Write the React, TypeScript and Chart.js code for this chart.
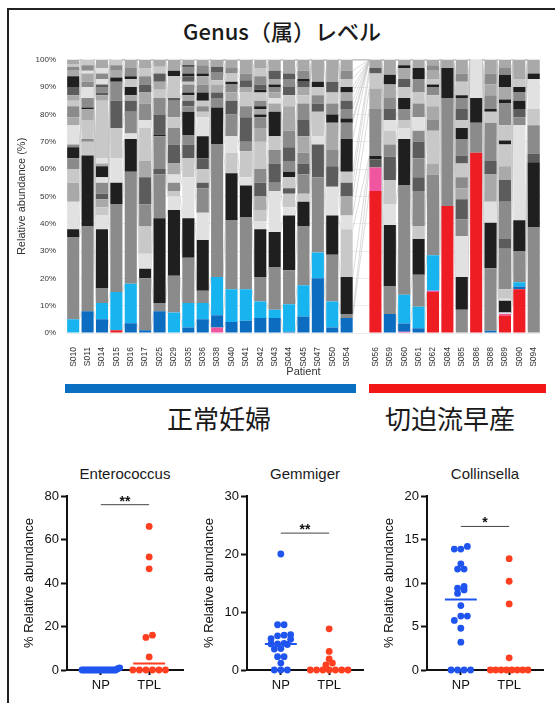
import React, { useEffect, useRef } from "react";
import { Chart, registerables } from "chart.js";

Chart.register(...registerables);

const FONT = "'Liberation Sans', Arial, sans-serif";
const JP_FONT = "'Noto Sans CJK JP', 'Noto Sans', sans-serif";

// ---------- stacked bar data ----------
const NP_PATIENTS = ["S010", "S011", "S014", "S015", "S016", "S017", "S025", "S029", "S035", "S036", "S038", "S040", "S041", "S042", "S043", "S044", "S045", "S047", "S050", "S054"];
const TPL_PATIENTS = ["S056", "S059", "S060", "S061", "S062", "S084", "S085", "S086", "S088", "S089", "S090", "S094"];
const CATEGORIES = [...NP_PATIENTS, "", ...TPL_PATIENTS];

// [genus group, cumulative top (%)] from bottom to top
type Seg = [string, number];
const S010: Seg[] = [["L", 5], ["m", 35], ["k", 38], ["w", 48], ["g", 55], ["l", 60], ["m", 64], ["k", 68], ["m", 69], ["w", 76], ["g", 79], ["m", 83], ["l", 85], ["g", 87], ["d", 90], ["k", 94], ["g", 96], ["m", 97.5], ["l", 98.5], ["g", 100]];
const S011: Seg[] = [["B", 8], ["m", 39], ["k", 65], ["l", 70], ["m", 71], ["l", 78], ["g", 82], ["k", 82.5], ["m", 86], ["w", 90], ["m", 92], ["g", 95], ["w", 96], ["m", 98], ["l", 100]];
const S014: Seg[] = [["B", 5], ["L", 11], ["m", 16.5], ["k", 38], ["w", 43], ["l", 46], ["g", 49], ["d", 51], ["m", 55], ["w", 57], ["k", 61], ["g", 62], ["w", 64], ["l", 85], ["g", 87], ["d", 88], ["m", 90], ["d", 91], ["w", 93], ["m", 95], ["w", 97], ["g", 100]];
const S015: Seg[] = [["R", 1], ["L", 15], ["m", 47], ["k", 55], ["w", 64], ["l", 75], ["d", 85], ["m", 92], ["k", 93.5], ["g", 96], ["m", 98], ["l", 100]];
const S016: Seg[] = [["B", 3.6], ["L", 18], ["m", 59], ["k", 71], ["w", 73], ["m", 81], ["d", 85], ["g", 87], ["k", 90], ["l", 93], ["k", 94], ["m", 97], ["g", 100]];
const S017: Seg[] = [["B", 1], ["m", 20], ["k", 23.5], ["w", 29], ["l", 39], ["m", 47], ["d", 57], ["g", 63], ["l", 75], ["w", 78], ["m", 84], ["g", 88], ["d", 91], ["m", 94], ["l", 97], ["g", 100]];
const S025: Seg[] = [["B", 8], ["m", 11], ["k", 42], ["m", 58], ["d", 60], ["m", 72], ["k", 72.7], ["d", 80], ["m", 86], ["l", 89], ["g", 92], ["d", 95], ["l", 97.5], ["g", 100]];
const S029: Seg[] = [["L", 7.5], ["m", 21], ["k", 45], ["w", 50], ["l", 52], ["m", 55], ["w", 58], ["g", 62], ["d", 69], ["m", 75], ["l", 79], ["m", 85], ["d", 86], ["l", 94], ["k", 96], ["g", 100]];
const S035: Seg[] = [["B", 2], ["L", 11], ["m", 27.5], ["k", 42], ["w", 57], ["l", 64], ["d", 69], ["m", 72.5], ["k", 81], ["m", 83], ["d", 85], ["g", 87], ["k", 88], ["m", 91], ["l", 92], ["d", 94], ["k", 95], ["m", 97.5], ["k", 98], ["g", 100]];
const S036: Seg[] = [["B", 5], ["L", 11], ["m", 15.5], ["k", 34], ["w", 44], ["m", 53], ["d", 55], ["l", 60], ["d", 64], ["k", 72], ["w", 79], ["l", 81], ["m", 83], ["l", 85], ["k", 88], ["m", 91], ["g", 94], ["k", 95], ["m", 98], ["g", 100]];
const S038: Seg[] = [["P", 2], ["B", 6.5], ["L", 20.5], ["m", 69], ["k", 82.5], ["m", 86], ["d", 88], ["g", 91], ["l", 92.5], ["m", 95.5], ["d", 97.5], ["g", 100]];
const S040: Seg[] = [["B", 4], ["L", 16], ["m", 41.4], ["k", 58.5], ["l", 66], ["w", 72], ["m", 80], ["d", 85], ["g", 88], ["m", 91], ["k", 92], ["l", 95], ["m", 97], ["g", 100]];
const S041: Seg[] = [["B", 4.5], ["L", 16], ["m", 42.5], ["k", 54], ["w", 57], ["l", 66.5], ["m", 70], ["d", 79], ["m", 83], ["l", 88], ["g", 90], ["d", 92.5], ["m", 95], ["g", 100]];
const S042: Seg[] = [["B", 5.5], ["L", 11.5], ["m", 20.5], ["k", 38], ["w", 41], ["l", 45], ["g", 50], ["d", 55], ["m", 60], ["l", 70], ["g", 75], ["m", 79], ["k", 80], ["g", 82], ["k", 83], ["m", 85], ["l", 88], ["k", 89], ["d", 91], ["m", 94], ["l", 97], ["g", 100]];
const S043: Seg[] = [["B", 5.5], ["L", 8.5], ["m", 24], ["k", 37], ["w", 52], ["m", 55], ["d", 62], ["m", 67], ["l", 72], ["k", 81], ["g", 84], ["w", 86], ["g", 88], ["m", 90], ["k", 91], ["g", 93], ["d", 96], ["g", 100]];
const S044: Seg[] = [["B", 0.5], ["L", 10.5], ["m", 23], ["k", 43], ["w", 46], ["l", 51], ["d", 53], ["l", 57], ["k", 59], ["m", 63], ["d", 68], ["m", 74], ["g", 83], ["l", 87], ["d", 90], ["m", 93], ["d", 95], ["g", 100]];
const S045: Seg[] = [["B", 6], ["L", 17.5], ["m", 39], ["k", 48], ["l", 51], ["m", 58], ["d", 62], ["m", 66], ["g", 72], ["d", 78], ["m", 84], ["l", 87], ["g", 90], ["d", 92], ["k", 93], ["m", 96], ["g", 100]];
const S047: Seg[] = [["B", 20], ["L", 29.5], ["m", 57], ["d", 69], ["w", 72], ["l", 81], ["d", 84], ["m", 87], ["l", 90], ["k", 92], ["g", 100]];
const S050: Seg[] = [["B", 2], ["L", 11.5], ["m", 28.6], ["k", 43], ["w", 53.5], ["d", 61], ["m", 67], ["g", 77], ["k", 80], ["m", 84], ["l", 88], ["d", 92], ["g", 100]];
const S054: Seg[] = [["B", 5.5], ["m", 7], ["k", 20.5], ["l", 38], ["w", 43], ["g", 50], ["d", 55], ["l", 59], ["k", 71], ["m", 77], ["k", 78.5], ["m", 82], ["d", 85], ["g", 88], ["k", 90], ["l", 93], ["m", 96], ["g", 100]];
const S056: Seg[] = [["R", 52], ["P", 60.6], ["d", 63.5], ["k", 64.8], ["m", 82], ["g", 89.5], ["l", 95], ["d", 97], ["g", 100]];
const S059: Seg[] = [["B", 7], ["m", 17], ["k", 39.5], ["w", 47], ["l", 56], ["d", 64.5], ["m", 69], ["l", 74], ["w", 78], ["d", 82], ["m", 86], ["g", 91], ["k", 94.5], ["g", 100]];
const S060: Seg[] = [["P", 0.5], ["B", 3.5], ["L", 14], ["m", 54], ["k", 71], ["w", 75], ["l", 78], ["m", 82], ["k", 86], ["l", 90], ["d", 93], ["g", 97], ["k", 98], ["g", 100]];
const S061: Seg[] = [["B", 1.7], ["L", 9.6], ["m", 21.3], ["k", 34.4], ["l", 39.2], ["m", 52], ["d", 57], ["m", 64], ["d", 70], ["m", 74], ["w", 79], ["m", 84], ["l", 88], ["m", 93], ["k", 97], ["g", 100]];
const S062: Seg[] = [["R", 15], ["P", 15.5], ["L", 28.5], ["m", 58], ["g", 62], ["l", 74], ["m", 78], ["g", 83], ["l", 87], ["m", 90], ["k", 91], ["l", 93], ["g", 96], ["m", 98], ["g", 100]];
const S084: Seg[] = [["R", 46.5], ["m", 86], ["k", 97], ["g", 100]];
const S085: Seg[] = [["m", 8.5], ["k", 20.5], ["w", 35.5], ["m", 41.5], ["d", 49], ["g", 53], ["m", 57], ["l", 62], ["d", 65], ["m", 71], ["k", 75], ["l", 78], ["d", 82], ["m", 86], ["k", 87], ["l", 92], ["m", 95], ["g", 100]];
const S086: Seg[] = [["R", 66], ["m", 77], ["k", 86], ["w", 100]];
const S088: Seg[] = [["B", 0.8], ["m", 23.7], ["k", 40.4], ["w", 48], ["g", 58], ["d", 63], ["m", 77], ["l", 81], ["k", 82], ["m", 87], ["g", 91], ["m", 95], ["g", 100]];
const S089: Seg[] = [["R", 6.4], ["P", 7], ["w", 7.5], ["k", 11.8], ["w", 12.5], ["l", 16], ["m", 30.8], ["d", 34.4], ["m", 48], ["d", 56], ["g", 61], ["l", 69], ["k", 70.5], ["l", 76], ["m", 84], ["k", 85.5], ["g", 90], ["k", 94.5], ["m", 97], ["g", 100]];
const S090: Seg[] = [["R", 16], ["B", 17], ["L", 18.6], ["m", 30], ["k", 41.3], ["w", 76], ["m", 79], ["d", 82], ["k", 85], ["m", 88], ["k", 90], ["l", 93], ["g", 100]];
const S094: Seg[] = [["m", 38.6], ["k", 62.5], ["d", 65.7], ["m", 76], ["l", 82], ["w", 93], ["k", 95], ["g", 100]];

const BAR_SEGMENTS: (Seg[] | null)[] = [
  S010, S011, S014, S015, S016, S017, S025, S029, S035, S036, S038, S040, S041, S042, S043, S044, S045, S047, S050, S054,
  null,
  S056, S059, S060, S061, S062, S084, S085, S086, S088, S089, S090, S094,
];

const GROUP_COLORS: Record<string, string> = {
  B: "#0b6cc0", L: "#17b4f0", R: "#ee1d23", P: "#f0569f",
  k: "#1f1f1f", d: "#5c5c5c", m: "#8b8b8b", g: "#a9a9a9", l: "#c8c8c8", w: "#e1e1e1",
};

// ---------- dot plot data ----------
const GROUPS = ["NP", "TPL"];
const ENTERO_NP = [0, 0, 0, 0, 0, 0, 0, 0, 0, 0, 0, 0, 0, 0, 0, 0, 0, 0, 0.6, 1.0];
const ENTERO_TPL = [66, 52, 46.5, 16, 15, 6, 0, 0, 0, 0, 0, 0];
const GEMM_NP = [20, 7.8, 7.8, 6.1, 6.0, 5.9, 5.4, 5.3, 4.6, 4.5, 4.5, 4.4, 3.7, 3.6, 2.3, 2.3, 1.2, 0, 0, 0];
const GEMM_TPL = [7.1, 3.2, 1.9, 1.2, 0.9, 0, 0, 0, 0, 0, 0, 0];
const COLL_NP = [14.2, 13.9, 13.9, 12.2, 11.6, 11.6, 9.6, 9.4, 9.2, 8.8, 7.4, 6.2, 6.2, 5.7, 4.8, 3.2, 0, 0, 0, 0];
const COLL_TPL = [12.8, 10.2, 7.6, 1.4, 0, 0, 0, 0, 0, 0, 0, 0];

const NP_COLOR = "#1f55ee";
const TPL_COLOR = "#ff3f1f";

function median(vals: number[]) {
  const s = [...vals].sort((a, b) => a - b);
  const n = s.length;
  return n % 2 ? s[(n - 1) / 2] : (s[n / 2 - 1] + s[n / 2]) / 2;
}

function swarm(values: number[], center: number, max: number) {
  const tau = (max * 5) / 174;
  const sorted = [...values].sort((a, b) => a - b);
  const pts: { x: number; y: number }[] = [];
  let i = 0;
  while (i < sorted.length) {
    let j = i;
    while (j < sorted.length && sorted[j] - sorted[i] <= tau) j++;
    const n = j - i;
    const spacing = n > 1 ? Math.min(0.135, 0.78 / (n - 1)) : 0;
    for (let k = 0; k < n; k++) pts.push({ x: center + (k - (n - 1) / 2) * spacing, y: sorted[i + k] });
    i = j;
  }
  return pts;
}

const connectorPlugin = {
  id: "connectors",
  beforeDatasetsDraw(chart: any) {
    const ctx = chart.ctx;
    ctx.save();
    ctx.strokeStyle = "#c2c2c2";
    ctx.lineWidth = 0.6;
    chart.data.datasets.forEach((ds: any, di: number) => {
      const meta = chart.getDatasetMeta(di);
      let prev: any = null;
      meta.data.forEach((bar: any, i: number) => {
        if (ds.data[i] == null) return;
        const p = bar.getProps(["x", "y", "width"], true);
        if (prev) {
          ctx.beginPath();
          ctx.moveTo(prev.x + prev.width / 2, prev.y);
          ctx.lineTo(p.x - p.width / 2, p.y);
          ctx.stroke();
        }
        prev = p;
      });
    });
    ctx.restore();
  },
};

function StackedChart() {
  const ref = useRef<HTMLCanvasElement>(null);
  useEffect(() => {
    const maxSegs = Math.max(...BAR_SEGMENTS.map((s) => (s ? s.length : 0)));
    const datasets: any[] = [];
    for (let j = 0; j < maxSegs; j++) {
      const data = BAR_SEGMENTS.map((segs) => {
        if (!segs) return null;
        if (j >= segs.length) return 0;
        const prev = j === 0 ? 0 : segs[j - 1][1];
        return segs[j][1] - prev;
      });
      const colors = BAR_SEGMENTS.map((segs) => (segs && segs[j] ? GROUP_COLORS[segs[j][0]] : "rgba(0,0,0,0)"));
      datasets.push({ data, backgroundColor: colors, borderWidth: 0, barPercentage: 0.84, categoryPercentage: 1 });
    }
    const chart = new Chart(ref.current!, {
      type: "bar",
      data: { labels: CATEGORIES, datasets },
      plugins: [connectorPlugin],
      options: {
        animation: false,
        responsive: false,
        maintainAspectRatio: false,
        layout: { padding: { top: 8, right: 4, left: 0, bottom: 0 } },
        plugins: { legend: { display: false }, tooltip: { enabled: false } },
        scales: {
          x: {
            stacked: true,
            grid: { display: false },
            border: { display: false },
            ticks: { autoSkip: false, maxRotation: 90, minRotation: 90, padding: 6, color: "#333", font: { size: 8.5, family: FONT } },
            title: { display: true, text: "Patient", color: "#333", font: { size: 11, family: FONT }, padding: { top: 0, bottom: 1 } },
            afterFit: (s: any) => { s.height = 47; },
          },
          y: {
            stacked: true,
            min: 0,
            max: 100,
            ticks: { stepSize: 10, padding: 10, color: "#333", font: { size: 8, family: FONT }, callback: (v: any) => v + "%" },
            grid: { color: "#ececec", drawTicks: false },
            border: { display: false },
            title: { display: true, text: "Relative abundance (%)", color: "#333", font: { size: 11, family: FONT }, padding: { top: 5, bottom: 0 } },
            afterFit: (s: any) => { s.width = 56; },
          },
        },
      } as any,
    });
    return () => chart.destroy();
  }, []);
  return <canvas ref={ref} width={540} height={335} style={{ position: "absolute", left: 10, top: 45 }} />;
}

function DotPlot(props: { left: number; np: number[]; tpl: number[]; max: number; step: number; sig: number; stars: string }) {
  const ref = useRef<HTMLCanvasElement>(null);
  useEffect(() => {
    const { np, tpl, max, step, sig, stars } = props;
    const mNP = median(np);
    const mTPL = median(tpl);
    const starPlugin = {
      id: "stars",
      afterDatasetsDraw(chart: any) {
        const ctx = chart.ctx;
        const xs = chart.scales.x;
        const ys = chart.scales.y;
        ctx.save();
        ctx.fillStyle = "#111";
        ctx.font = `bold 14px ${FONT}`;
        ctx.textAlign = "center";
        ctx.textBaseline = "alphabetic";
        ctx.fillText(stars, xs.getPixelForValue(1.5), ys.getPixelForValue(sig) + 1);
        ctx.restore();
      },
    };
    const chart = new Chart(ref.current!, {
      type: "scatter",
      data: {
        datasets: [
          { data: [{ x: 1, y: sig }, { x: 2, y: sig }], showLine: true, borderColor: "#444", borderWidth: 1, pointRadius: 0 },
          { data: [{ x: 0.67, y: mNP }, { x: 1.33, y: mNP }], showLine: true, borderColor: NP_COLOR, borderWidth: 2, pointRadius: 0, clip: false },
          { data: [{ x: 1.67, y: mTPL }, { x: 2.33, y: mTPL }], showLine: true, borderColor: TPL_COLOR, borderWidth: 2, pointRadius: 0, clip: false },
          { data: swarm(np, 1, max), backgroundColor: NP_COLOR, borderWidth: 0, pointRadius: 3.4, clip: false },
          { data: swarm(tpl, 2, max), backgroundColor: TPL_COLOR, borderWidth: 0, pointRadius: 3.4, clip: false },
        ],
      },
      plugins: [starPlugin],
      options: {
        animation: false,
        responsive: false,
        maintainAspectRatio: false,
        layout: { padding: { top: 10, right: 4, left: 0, bottom: 0 } },
        plugins: { legend: { display: false }, tooltip: { enabled: false } },
        scales: {
          x: {
            type: "linear",
            min: 0.3,
            max: 2.7,
            afterBuildTicks: (s: any) => { s.ticks = [{ value: 1 }, { value: 2 }]; },
            ticks: { color: "#111", padding: 3, font: { size: 13, family: FONT }, callback: (v: any) => GROUPS[v - 1] ?? "" },
            grid: { drawOnChartArea: false, drawTicks: true, tickLength: 5, tickWidth: 2, tickColor: "#111" },
            border: { color: "#111", width: 2 },
            afterFit: (s: any) => { s.height = 30; },
          },
          y: {
            min: 0,
            max,
            ticks: { stepSize: step, color: "#111", padding: 2, font: { size: 13, family: FONT } },
            grid: { drawOnChartArea: false, drawTicks: true, tickLength: 6, tickWidth: 2, tickColor: "#111" },
            border: { color: "#111", width: 2 },
            title: { display: true, text: "% Relative abundance", color: "#111", font: { size: 13, family: FONT }, padding: { top: 7, bottom: 0 } },
            afterFit: (s: any) => { s.width = 52; },
          },
        },
      } as any,
    });
    return () => chart.destroy();
  }, []);
  return <canvas ref={ref} width={172} height={214} style={{ position: "absolute", left: props.left, top: 486 }} />;
}

function Label(props: { text: string; cx: number; cy: number; size: number; family: string; weight?: number }) {
  const w = 400;
  return (
    <div
      style={{
        position: "absolute",
        left: props.cx - w / 2,
        width: w,
        top: props.cy - props.size * 0.6,
        height: props.size * 1.2,
        lineHeight: `${props.size * 1.2}px`,
        textAlign: "center",
        fontSize: props.size,
        fontFamily: props.family,
        fontWeight: props.weight ?? 400,
        color: "#1a1a1a",
        whiteSpace: "nowrap",
      }}
    >
      {props.text}
    </div>
  );
}

export default function App() {
  return (
    <div style={{ position: "absolute", left: 0, top: 0, width: 555, height: 703, overflow: "hidden", background: "#fff" }}>
      <div style={{ position: "absolute", left: 7, top: 8, width: 620, height: 760, border: "2px solid #222", boxSizing: "border-box" }} />
      <Label text="Genus（属）レベル" cx={282} cy={30} size={22} family={JP_FONT} weight={500} />
      <StackedChart />
      <div style={{ position: "absolute", left: 65, top: 384, width: 291, height: 9, background: "#0b6fc1" }} />
      <div style={{ position: "absolute", left: 369, top: 384, width: 177, height: 9, background: "#f21616" }} />
      <Label text="正常妊婦" cx={219} cy={418} size={26} family={JP_FONT} />
      <Label text="切迫流早産" cx={450} cy={418} size={26} family={JP_FONT} />
      <Label text="Enterococcus" cx={125} cy={474} size={15} family={FONT} />
      <Label text="Gemmiger" cx={305} cy={474} size={15} family={FONT} />
      <Label text="Collinsella" cx={485} cy={474} size={15} family={FONT} />
      <DotPlot left={15} np={ENTERO_NP} tpl={ENTERO_TPL} max={80} step={20} sig={76} stars="**" />
      <DotPlot left={195} np={GEMM_NP} tpl={GEMM_TPL} max={30} step={10} sig={23.6} stars="**" />
      <DotPlot left={375} np={COLL_NP} tpl={COLL_TPL} max={20} step={5} sig={16.5} stars="*" />
    </div>
  );
}
